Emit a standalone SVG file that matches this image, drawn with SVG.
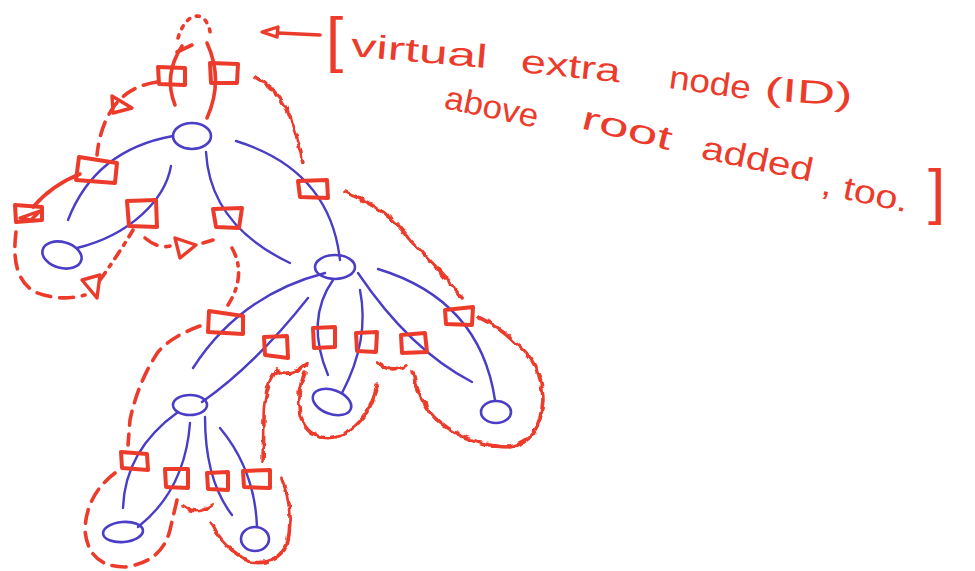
<svg xmlns="http://www.w3.org/2000/svg" width="975" height="571" viewBox="0 0 975 571">
  <style>
    .edge { fill: none; stroke: #4a3dc6; stroke-width: 2.4; stroke-linecap: round; }
    .node { fill: none; stroke: #4a3dc6; stroke-width: 2.6; }
    .sq { fill: none; stroke: #ec3b2b; stroke-width: 4; stroke-linejoin: round; }
    .tour { fill: none; stroke: #ec3b2b; stroke-width: 3.6; stroke-linecap: round; }
    .dash { stroke-dasharray: 14 9; }
    .dashdot { stroke-dasharray: 9 7 3 7; }
    .dot { stroke-dasharray: 3 7; }
    .tri { fill: none; stroke: #ec3b2b; stroke-width: 3.4; stroke-linejoin: round; }
    .note { fill: #ec3b2b; font-family: "Liberation Sans", Arial, sans-serif; font-size: 33px; }
    .brace { font-size: 62px; }
  </style>
  <defs>
    <filter id="wobble" filterUnits="userSpaceOnUse" x="0" y="0" width="975" height="571">
      <feTurbulence type="fractalNoise" baseFrequency="0.16" numOctaves="1" seed="4" result="noise"/>
      <feDisplacementMap in="SourceGraphic" in2="noise" scale="6" xChannelSelector="R" yChannelSelector="G"/>
    </filter>
  </defs>
  <rect width="975" height="571" fill="#ffffff"/>

  <!-- tree edges -->
  <g id="edges">
    <path class="edge" d="M 173 136 Q 95 150 68 220"/>
    <path class="edge" d="M 171 166 C 165 200 130 235 77 248"/>
    <path class="edge" d="M 206 152 Q 210 225 290 263"/>
    <path class="edge" d="M 236 141 Q 330 170 340 260"/>
    <path class="edge" d="M 325 273 Q 240 295 193 368"/>
    <path class="edge" d="M 308 298 Q 255 365 202 402"/>
    <path class="edge" d="M 333 280 Q 305 320 328 375"/>
    <path class="edge" d="M 360 290 Q 370 340 342 393"/>
    <path class="edge" d="M 358 273 Q 410 350 472 382"/>
    <path class="edge" d="M 378 269 Q 480 300 495 400"/>
    <path class="edge" d="M 178 412 Q 125 450 123 508"/>
    <path class="edge" d="M 190 423 Q 185 490 138 527"/>
    <path class="edge" d="M 205 417 Q 205 480 232 515"/>
    <path class="edge" d="M 220 428 Q 255 470 257 527"/>
  </g>

  <!-- tree nodes -->
  <g id="root"><ellipse class="node" cx="192" cy="136" rx="19" ry="13"/></g>
  <g id="leaf-left"><ellipse class="node" cx="62" cy="255" rx="20" ry="13" transform="rotate(15 62 255)"/></g>
  <g id="inner-mid"><ellipse class="node" cx="335" cy="267" rx="20" ry="12"/></g>
  <g id="leaf-mid"><ellipse class="node" cx="332" cy="402" rx="20" ry="12" transform="rotate(20 332 402)"/></g>
  <g id="leaf-right"><ellipse class="node" cx="496" cy="412" rx="15" ry="11"/></g>
  <g id="inner-low"><ellipse class="node" cx="190" cy="405" rx="17" ry="10"/></g>
  <g id="leaf-low-left"><ellipse class="node" cx="123" cy="532" rx="20" ry="10" transform="rotate(-5 123 532)"/></g>
  <g id="leaf-low-right"><ellipse class="node" cx="255" cy="539" rx="14" ry="12"/></g>

  <!-- edge markers of the tour -->
  <g id="marks">
    <polygon class="sq" points="158,67 185,68 185,85 159,84"/>
    <polygon class="sq" points="210,63 238,64 237,83 211,83"/>
    <polygon class="sq" points="79,157 117,163 115,183 76,180"/>
    <polygon class="sq" points="15,205 42,207 42,220 16,222"/>
    <polygon class="sq" points="127,201 156,200 157,227 129,226"/>
    <polygon class="sq" points="213,209 242,208 239,228 216,227"/>
    <polygon class="sq" points="298,181 327,180 328,198 300,197"/>
    <polygon class="sq" points="209,311 243,316 243,334 208,332"/>
    <polygon class="sq" points="264,337 287,336 288,358 265,355"/>
    <polygon class="sq" points="313,328 335,327 335,347 314,348"/>
    <polygon class="sq" points="356,333 377,332 376,352 357,351"/>
    <polygon class="sq" points="401,335 425,333 427,352 402,353"/>
    <polygon class="sq" points="445,310 473,307 472,325 446,324"/>
    <polygon class="sq" points="121,452 147,454 148,470 122,468"/>
    <polygon class="sq" points="165,469 188,469 188,488 166,487"/>
    <polygon class="sq" points="207,473 228,472 228,490 208,489"/>
    <polygon class="sq" points="243,471 270,470 270,488 244,487"/>
  </g>

  <!-- tour lines -->
  <g id="tour">
    <!-- virtual node above the root -->
    <path class="tour dot" d="M 178 38 Q 185 16 198 16 Q 209 18 211 38"/>
    <path class="tour" d="M 182 46 Q 163 75 175 105"/>
    <path class="tour" d="M 207 43 Q 224 80 207 118"/>
    <path class="tour" d="M 177 52 L 192 45"/>

    <!-- left side -->
    <path class="tour dash" d="M 157 82 Q 130 86 115 105 Q 100 125 97 155"/>
    <path class="tour" d="M 80 174 Q 52 185 33 207"/>
    <path class="tour dash" d="M 16 232 Q 10 278 35 292 Q 60 302 85 295"/>
    <path class="tour dashdot" d="M 100 280 Q 118 255 133 230"/>
    <path class="tour dash" d="M 145 238 Q 158 249 170 246"/>
    <path class="tour" d="M 203 243 L 213 240"/>
    <path class="tour dashdot" d="M 232 248 Q 247 275 228 305"/>
    <path class="tour dash" d="M 200 326 Q 172 336 158 352 Q 138 382 130 420 L 128 445"/>
    <path class="tour dash" d="M 115 473 Q 86 495 85 530 Q 88 567 125 567 Q 162 562 170 530 L 177 500"/>

    <!-- squiggles -->
    <g filter="url(#wobble)">
      <path class="tour" d="M 255 77 Q 282 92 291 120 Q 300 145 303 163"/>
      <path class="tour" d="M 345 192 Q 390 210 410 240 Q 440 270 462 298"/>
      <path class="tour" d="M 478 317 Q 500 327 515 343 Q 542 362 543 400 Q 540 442 510 447 Q 478 447 447 428 Q 420 410 413 372"/>
      <path class="tour" d="M 378 362 Q 390 374 407 365"/>
      <path class="tour" d="M 377 385 C 370 420 345 442 320 437 C 295 430 295 395 305 373"/>
      <path class="tour" d="M 276 371 Q 290 378 307 364"/>
      <path class="tour" d="M 277 370 Q 264 385 264 420 L 263 462"/>
      <path class="tour" d="M 282 479 Q 295 510 287 545 Q 275 566 250 562 Q 225 550 211 523"/>
      <path class="tour" d="M 183 506 Q 196 516 212 505"/>
    </g>

    <!-- direction triangles -->
    <polygon class="tri" points="112,96 132,108 113,113"/>
    <polygon class="tri" points="20,218 40,211 31,220"/>
    <polygon class="tri" points="82,280 100,275 97,298"/>
    <polygon class="tri" points="175,238 196,245 180,258"/>

    <!-- pointer to the note -->
    <polygon class="tri" points="262,32 278,27 277,37"/>
    <path class="tour" d="M 278 33 L 320 35"/>
  </g>

  <!-- note -->
  <g id="note">
    <text class="note brace" x="326" y="60">[</text>
    <text class="note" x="350" y="56" textLength="137" lengthAdjust="spacingAndGlyphs" transform="rotate(5 350 56)">virtual</text>
    <text class="note" x="520" y="72" textLength="100" lengthAdjust="spacingAndGlyphs" transform="rotate(6 520 72)">extra</text>
    <text class="note" x="668" y="88" textLength="82" lengthAdjust="spacingAndGlyphs" transform="rotate(8 668 88)">node</text>
    <text class="note" x="764" y="100" textLength="88" lengthAdjust="spacingAndGlyphs" transform="rotate(4 764 100)">(ID)</text>
    <text class="note" x="443" y="108" textLength="95" lengthAdjust="spacingAndGlyphs" transform="rotate(12 443 108)">above</text>
    <text class="note" x="580" y="128" textLength="92" lengthAdjust="spacingAndGlyphs" transform="rotate(14 580 128)">root</text>
    <text class="note" x="700" y="158" textLength="113" lengthAdjust="spacingAndGlyphs" transform="rotate(12 700 158)">added</text>
    <text class="note" x="820" y="194" textLength="88" lengthAdjust="spacingAndGlyphs" transform="rotate(12 820 194)">, too.</text>
    <text class="note brace" x="928" y="212">]</text>
  </g>
</svg>
